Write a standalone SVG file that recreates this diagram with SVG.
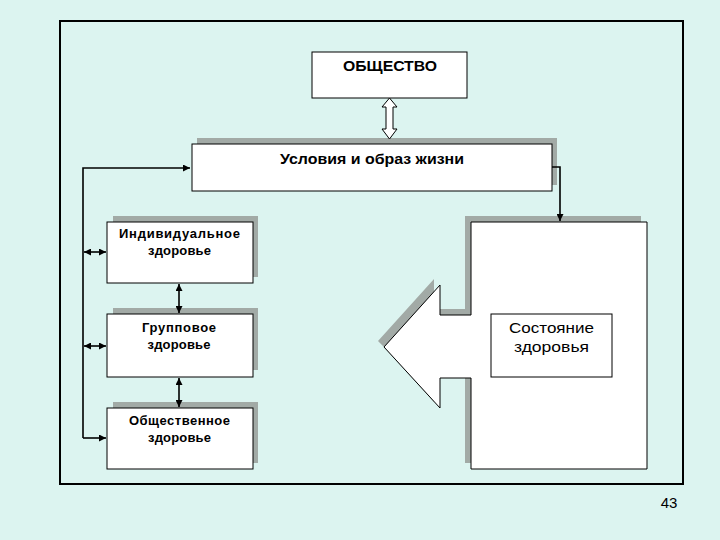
<svg xmlns="http://www.w3.org/2000/svg" width="720" height="540" viewBox="0 0 720 540">
<defs>
<style>
.bg{fill:#dcf4f0}
.box{fill:#ffffff;stroke:#000000;stroke-width:1}
.sh{fill:#a2aaa6}
.t{font-family:"Liberation Sans",Arial,sans-serif;fill:#000000;text-anchor:middle}
.b{font-weight:bold;font-size:13px}
.n{font-size:15px}
.ln{fill:none;stroke:#000000;stroke-width:1.6}
</style>
<marker id="ah" viewBox="0 0 8 8" refX="8" refY="4" markerWidth="7" markerHeight="7" markerUnits="userSpaceOnUse" orient="auto-start-reverse">
<path d="M0,0 L8,4 L0,8 Z" fill="#000000"/>
</marker>
</defs>
<rect class="bg" x="0" y="0" width="720" height="540"/>
<rect x="60" y="21" width="623" height="463" fill="none" stroke="#000000" stroke-width="2"/>

<g id="obshchestvo">
<rect class="box" x="312" y="52" width="155" height="46"/>
<text class="t" x="390" y="71" font-weight="bold" font-size="15.5" textLength="94" lengthAdjust="spacingAndGlyphs">ОБЩЕСТВО</text>
</g>

<g id="usloviya">
<rect class="sh" x="197" y="138" width="360" height="47"/>
<polygon points="389.5,98 397,107 393,107 393,129 397,129 389.5,139 382,129 386,129 386,107 382,107" fill="#ffffff" stroke="#000000" stroke-width="1"/>
<rect class="box" x="192" y="144" width="360" height="47"/>
<text class="t" x="372" y="164" font-weight="bold" font-size="15" textLength="184" lengthAdjust="spacingAndGlyphs">Условия и образ жизни</text>
</g>

<g id="individualnoe">
<rect class="sh" x="113" y="216" width="145" height="61"/>
<rect class="box" x="107" y="222" width="146" height="61"/>
<text class="t b" x="179.5" y="238" textLength="121" lengthAdjust="spacing">Индивидуальное</text>
<text class="t b" x="179.5" y="255" textLength="63" lengthAdjust="spacing">здоровье</text>
</g>

<g id="gruppovoe">
<rect class="sh" x="113" y="308" width="145" height="62"/>
<rect class="box" x="107" y="314" width="146" height="63"/>
<text class="t b" x="179" y="332" textLength="74" lengthAdjust="spacing">Групповое</text>
<text class="t b" x="179" y="349" textLength="63" lengthAdjust="spacing">здоровье</text>
</g>

<g id="obshchestvennoe">
<rect class="sh" x="113" y="402" width="145" height="61"/>
<rect class="box" x="107" y="408" width="146" height="61"/>
<text class="t b" x="179.5" y="425" textLength="101" lengthAdjust="spacing">Общественное</text>
<text class="t b" x="179.5" y="442" textLength="63" lengthAdjust="spacing">здоровье</text>
</g>

<g id="sostoyanie">
<path class="sh" d="M465,216 L641,216 L641,463 L465,463 L465,372 L434,372 L434,402 L384,347 L378,341 L434,279 L434,309 L465,309 Z"/>
<path class="box" d="M471,222 L647,222 L647,469 L471,469 L471,378 L440,378 L440,408 L384,347 L440,285 L440,315 L471,315 Z"/>
<rect class="box" x="491" y="314" width="121" height="63"/>
<text class="t n" x="551.5" y="333" textLength="85" lengthAdjust="spacingAndGlyphs">Состояние</text>
<text class="t n" x="551.5" y="352" textLength="75" lengthAdjust="spacingAndGlyphs">здоровья</text>
</g>

<g id="connectors">
<path class="ln" d="M83,438 L83,168 L190,168" marker-end="url(#ah)"/>
<path class="ln" d="M83,438 L106,438" marker-end="url(#ah)"/>
<path class="ln" d="M84,252 L106,252" marker-start="url(#ah)" marker-end="url(#ah)"/>
<path class="ln" d="M84,346 L106,346" marker-start="url(#ah)" marker-end="url(#ah)"/>
<path class="ln" d="M179,284 L179,313" marker-start="url(#ah)" marker-end="url(#ah)"/>
<path class="ln" d="M179,378 L179,407" marker-start="url(#ah)" marker-end="url(#ah)"/>
<path class="ln" d="M552,167 L560,167 L560,221" marker-end="url(#ah)"/>
</g>

<text class="t" x="669" y="508" font-size="15">43</text>
</svg>
